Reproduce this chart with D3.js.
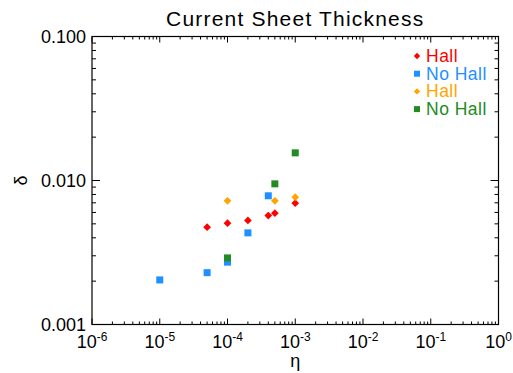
<!DOCTYPE html>
<html>
<head>
<meta charset="utf-8">
<script src="https://cdn.jsdelivr.net/npm/d3@7"></script>
<style>
  body { margin: 0; background: #fff; }
  svg { font-family: "Liberation Sans", Arial, Helvetica, sans-serif; }
</style>
</head>
<body>
<svg width="513" height="373"></svg>
<script>
// data (eta, delta)
var hallRedEta = [5e-5, 1e-4, 2e-4, 4e-4, 5e-4, 1e-3];
var hallRedDelta = [0.00474, 0.00505, 0.00528, 0.00571, 0.00593, 0.00696];
var noHallBlueEta = [1e-5, 5e-5, 1e-4, 2e-4, 4e-4];
var noHallBlueDelta = [0.00204, 0.00229, 0.00271, 0.00433, 0.00783];
var hallOrangeEta = [1e-4, 5e-4, 1e-3];
var hallOrangeDelta = [0.00723, 0.00723, 0.00766];
var noHallGreenEta = [1e-4, 5e-4, 1e-3];
var noHallGreenDelta = [0.0029, 0.00948, 0.01556];

var xTicks = [1e-6, 1e-5, 1e-4, 1e-3, 1e-2, 1e-1, 1];
var yTicks = [0.001, 0.01, 0.1];
var yTickLabels = ["0.001", "0.010", "0.100"];

var series = [
  {name: "Hall", color: "#ff0000", shape: "diamond", eta: hallRedEta, delta: hallRedDelta},
  {name: "No Hall", color: "#1e90ff", shape: "square", eta: noHallBlueEta, delta: noHallBlueDelta},
  {name: "Hall", color: "#ffa500", shape: "diamond", eta: hallOrangeEta, delta: hallOrangeDelta},
  {name: "No Hall", color: "#228b22", shape: "square", eta: noHallGreenEta, delta: noHallGreenDelta}
];

// plot box
var margin = {top: 36.5, right: 14.5, bottom: 48.5, left: 92};
var width = 513 - margin.left - margin.right;
var height = 373 - margin.top - margin.bottom;

var x = d3.scaleLog().domain([1e-6, 1]).range([0, width]);
var y = d3.scaleLog().domain([0.001, 0.1]).range([height, 0]);

var svg = d3.select("svg");
var g = svg.append("g")
  .attr("transform", "translate(" + margin.left + "," + margin.top + ")");

// minor tick positions (2..9 in every decade)
function minors(lo, hi) {
  var out = [];
  for (var e = Math.log10(lo); e < Math.log10(hi); e++) {
    for (var k = 2; k <= 9; k++) out.push(k * Math.pow(10, e));
  }
  return out;
}
var xMinor = minors(1e-6, 1);
var yMinor = minors(0.001, 0.1);

var xMaj = 6, xMin = 3, yMaj = 8, yMin = 4;

// frame
g.append("rect")
  .attr("width", width).attr("height", height)
  .attr("fill", "none").attr("stroke", "#000").attr("stroke-width", 1.2);

var ticks = g.append("g").attr("stroke", "#000").attr("stroke-width", 1);

// bottom and top ticks
ticks.selectAll(".xb").data(xTicks.concat(xMinor)).enter().append("line")
  .attr("x1", function(d) { return x(d); }).attr("x2", function(d) { return x(d); })
  .attr("y1", height)
  .attr("y2", function(d) { return height - (xTicks.indexOf(d) >= 0 ? xMaj : xMin); });
ticks.selectAll(".xt").data(xTicks.concat(xMinor)).enter().append("line")
  .attr("x1", function(d) { return x(d); }).attr("x2", function(d) { return x(d); })
  .attr("y1", 0)
  .attr("y2", function(d) { return xTicks.indexOf(d) >= 0 ? xMaj : xMin; });

// left and right ticks
ticks.selectAll(".yl").data(yTicks.concat(yMinor)).enter().append("line")
  .attr("y1", function(d) { return y(d); }).attr("y2", function(d) { return y(d); })
  .attr("x1", 0)
  .attr("x2", function(d) { return yTicks.indexOf(d) >= 0 ? yMaj : yMin; });
ticks.selectAll(".yr").data(yTicks.concat(yMinor)).enter().append("line")
  .attr("y1", function(d) { return y(d); }).attr("y2", function(d) { return y(d); })
  .attr("x1", width)
  .attr("x2", function(d) { return width - (yTicks.indexOf(d) >= 0 ? yMaj : yMin); });

// x tick labels 10^n
var xl = g.selectAll(".xlab").data(xTicks).enter().append("text")
  .attr("x", function(d) { return x(d); })
  .attr("y", height + 23.5)
  .attr("text-anchor", "middle")
  .attr("font-size", 18)
  .attr("fill", "#000");
xl.append("tspan").text("10");
xl.append("tspan")
  .attr("font-size", 12)
  .attr("dy", -7)
  .text(function(d) { return String(Math.round(Math.log10(d))); });

// y tick labels
g.selectAll(".ylab").data(yTicks).enter().append("text")
  .attr("x", -6)
  .attr("y", function(d) { return y(d) + 6.5; })
  .attr("text-anchor", "end")
  .attr("font-size", 18)
  .attr("fill", "#000")
  .text(function(d, i) { return yTickLabels[i]; });

// axis titles
g.append("text")
  .attr("x", width / 2).attr("y", height + 42)
  .attr("text-anchor", "middle").attr("font-size", 18)
  .text("η");
svg.append("text")
  .attr("transform", "translate(27," + (margin.top + height / 2) + ") rotate(-90)")
  .attr("text-anchor", "middle").attr("font-size", 18)
  .text("δ");

// title
svg.append("text")
  .attr("x", margin.left + width / 2).attr("y", 26)
  .attr("text-anchor", "middle").attr("font-size", 21)
  .attr("letter-spacing", 1.2)
  .text("Current Sheet Thickness");

// markers
var diamond = d3.symbol().type(d3.symbolDiamond2).size(38);
var square = d3.symbol().type(d3.symbolSquare).size(49);

series.forEach(function(s) {
  var pts = s.eta.map(function(e, i) { return {eta: e, delta: s.delta[i]}; });
  g.selectAll(null).data(pts).enter().append("path")
    .attr("d", s.shape === "diamond" ? diamond : square)
    .attr("transform", function(d) { return "translate(" + x(d.eta) + "," + y(d.delta) + ")"; })
    .attr("fill", s.color);
});

// legend
var leg = svg.append("g").attr("transform", "translate(417,56)");
series.forEach(function(s, i) {
  var row = leg.append("g").attr("transform", "translate(0," + (i * 17.7) + ")");
  row.append("path")
    .attr("d", s.shape === "diamond" ? d3.symbol().type(d3.symbolDiamond2).size(26)()
                                     : d3.symbol().type(d3.symbolSquare).size(36)())
    .attr("fill", s.color);
  row.append("text")
    .attr("x", 9).attr("y", 6)
    .attr("font-size", 17.5)
    .attr("letter-spacing", 0.5)
    .attr("fill", s.color)
    .text(s.name);
});
</script>
</body>
</html>
